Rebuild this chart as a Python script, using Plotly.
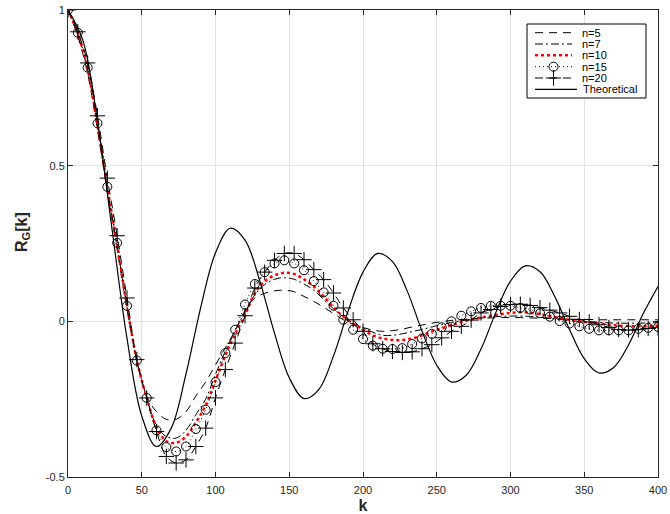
import numpy as np
import plotly.graph_objects as go

# lag grid for simulated curves (61 samples, 0..400)
k_sim = np.linspace(0, 400, 61)

n5 = [1.0, 0.915, 0.795, 0.615, 0.415, 0.23, 0.04, -0.125, -0.24, -0.29, -0.315, -0.315, -0.29,
      -0.24, -0.195, -0.14, -0.085, -0.03, 0.035, 0.075, 0.09, 0.098, 0.1, 0.095, 0.08, 0.064,
      0.045, 0.025, 0.005, -0.01, -0.02, -0.028, -0.032, -0.03, -0.025, -0.018, -0.012, -0.006,
      -0.001, 0.003, 0.006, 0.008, 0.01, 0.011, 0.012, 0.012, 0.012, 0.011, 0.01, 0.009, 0.008,
      0.007, 0.006, 0.006, 0.005, 0.005, 0.005, 0.005, 0.005, 0.005, 0.005]
n7 = [1.0, 0.92, 0.805, 0.625, 0.425, 0.24, 0.045, -0.125, -0.245, -0.335, -0.37, -0.375, -0.35,
      -0.3, -0.25, -0.17, -0.095, -0.03, 0.03, 0.085, 0.118, 0.135, 0.14, 0.135, 0.12, 0.1,
      0.07, 0.04, 0.015, -0.005, -0.022, -0.035, -0.045, -0.045, -0.04, -0.033, -0.026, -0.018,
      -0.01, -0.004, 0.002, 0.007, 0.011, 0.014, 0.016, 0.017, 0.017, 0.016, 0.013, 0.01, 0.006,
      0.003, 0.0, -0.002, -0.004, -0.005, -0.006, -0.006, -0.006, -0.005, -0.004]
n10 = [1.0, 0.925, 0.81, 0.63, 0.43, 0.245, 0.05, -0.125, -0.245, -0.34, -0.385, -0.39, -0.37,
       -0.325, -0.27, -0.19, -0.11, -0.04, 0.02, 0.09, 0.128, 0.148, 0.156, 0.152, 0.135, 0.112,
       0.08, 0.045, 0.015, -0.008, -0.027, -0.045, -0.055, -0.06, -0.06, -0.055, -0.045, -0.033,
       -0.023, -0.012, -0.003, 0.006, 0.012, 0.018, 0.023, 0.027, 0.029, 0.028, 0.023, 0.017,
       0.011, 0.005, 0.0, -0.004, -0.007, -0.01, -0.014, -0.015, -0.016, -0.015, -0.014]
n15 = [1.0, 0.927, 0.815, 0.636, 0.432, 0.252, 0.05, -0.126, -0.246, -0.35, -0.404, -0.418,
       -0.402, -0.346, -0.284, -0.195, -0.102, -0.027, 0.054, 0.12, 0.158, 0.186, 0.196, 0.186,
       0.164, 0.129, 0.093, 0.05, 0.005, -0.027, -0.057, -0.078, -0.088, -0.089, -0.086, -0.073,
       -0.055, -0.04, -0.019, 0.0, 0.018, 0.032, 0.043, 0.05, 0.05, 0.05, 0.043, 0.038, 0.026,
       0.015, 0.001, -0.007, -0.016, -0.024, -0.029, -0.029, -0.029, -0.029, -0.024, -0.021, -0.018]
n20 = [1.0, 0.93, 0.83, 0.66, 0.46, 0.275, 0.075, -0.123, -0.246, -0.354, -0.434, -0.455,
       -0.445, -0.402, -0.343, -0.246, -0.155, -0.07, 0.018, 0.107, 0.158, 0.196, 0.218, 0.218,
       0.198, 0.166, 0.134, 0.091, 0.043, 0.005, -0.032, -0.072, -0.088, -0.097, -0.1, -0.098,
       -0.088, -0.075, -0.053, -0.032, -0.016, 0.004, 0.027, 0.038, 0.048, 0.054, 0.055, 0.051,
       0.044, 0.036, 0.027, 0.016, 0.006, -0.002, -0.011, -0.02, -0.026, -0.028, -0.027, -0.023, -0.02]

# theoretical curve samples (k = 0, 10, ..., 400)
k_th = list(range(0, 401, 10))
theo = [1.0, 0.904, 0.643, 0.291, -0.055, -0.304, -0.402, -0.343, -0.169, 0.045, 0.220, 0.299,
        0.261, 0.130, -0.038, -0.181, -0.248, -0.219, -0.111, 0.034, 0.158, 0.218, 0.192, 0.097,
        -0.031, -0.141, -0.195, -0.173, -0.089, 0.028, 0.129, 0.178, 0.159, 0.080, -0.026,
        -0.120, -0.166, -0.148, -0.076, 0.025, 0.112]

series_names = ["n=5", "n=7", "n=10", "n=15", "n=20", "Theoretical"]
x_ticks = [0, 50, 100, 150, 200, 250, 300, 350, 400]
y_ticks = [-0.5, 0, 0.5, 1]
y_tick_text = ["-0.5", "0", "0.5", "1"]

FONT = "Liberation Sans, Arial, Helvetica, sans-serif"

styles = [
    dict(line=dict(color="black", width=1, dash="8px,6px"), marker=None),
    dict(line=dict(color="black", width=1, dash="8px,3px,2px,3px"), marker=None),
    dict(line=dict(color="red", width=2.5, dash="dot"), marker=None),
    dict(line=dict(color="black", width=1, dash="1px,3px"),
         marker=dict(symbol="circle-open", size=9, color="black", line=dict(width=1, color="black"))),
    dict(line=dict(color="black", width=1, dash="8px,6px"),
         marker=dict(symbol="cross-thin-open", size=11, color="black", line=dict(width=1, color="black"))),
    dict(line=dict(color="black", width=1.2), marker=None),
]
series = [(k_sim, n5), (k_sim, n7), (k_sim, n10), (k_sim, n15), (k_sim, n20), (k_th, theo)]

fig = go.Figure()
for (xs, ys), nm, st in zip(series, series_names, styles):
    kw = dict(x=xs, y=ys, name=nm, line_shape="spline", line=st["line"], showlegend=False)
    if st["marker"] is not None:
        kw.update(mode="lines+markers", marker=st["marker"])
    else:
        kw.update(mode="lines")
    fig.add_trace(go.Scatter(**kw))

# ---- compact MATLAB-style legend on a pixel-mapped overlay axis ----
LX0, LX1, LY0, LY1 = 527, 646, 24, 98
row_y = [32.7, 44.0, 55.3, 66.7, 78.0, 89.3]
fig.add_trace(go.Scatter(x=[LX0, LX1, LX1, LX0, LX0], y=[LY0, LY0, LY1, LY1, LY0],
                         mode="lines", fill="toself", fillcolor="white",
                         line=dict(color="black", width=1), xaxis="x2", yaxis="y2",
                         showlegend=False, hoverinfo="skip"))
for i, (nm, st) in enumerate(zip(series_names, styles)):
    x_end = 577 if nm == "Theoretical" else 572
    fig.add_trace(go.Scatter(x=[535, x_end], y=[row_y[i], row_y[i]], mode="lines",
                             line=st["line"], xaxis="x2", yaxis="y2", showlegend=False,
                             hoverinfo="skip"))
    if st["marker"] is not None:
        fig.add_trace(go.Scatter(x=[553.5], y=[row_y[i]], mode="markers", marker=st["marker"],
                                 xaxis="x2", yaxis="y2", showlegend=False, hoverinfo="skip"))
    fig.add_annotation(x=581 if nm == "Theoretical" else 580, y=row_y[i], xref="x2", yref="y2",
                       text=nm, showarrow=False, xanchor="left", yanchor="middle",
                       font=dict(family=FONT, size=11, color="black"))

# y-axis title
fig.add_annotation(x=-0.078, y=0.5246, xref="paper", yref="paper",
                   text="<b>R<sub>G</sub>[k]</b>", showarrow=False, textangle=-90,
                   xanchor="center", yanchor="middle",
                   font=dict(family=FONT, size=16, color="#262626"))

axis_common = dict(showline=True, linecolor="#262626", linewidth=1, mirror="ticks",
                   ticks="inside", ticklen=5, tickcolor="#262626", showgrid=True,
                   gridcolor="#e3e3e3", gridwidth=1, zeroline=False, automargin=False,
                   tickfont=dict(family=FONT, size=11, color="#262626"))

fig.update_layout(
    width=670, height=514,
    margin=dict(l=68, r=12, t=10, b=37, autoexpand=False),
    paper_bgcolor="white", plot_bgcolor="white",
    showlegend=False,
    xaxis=dict(range=[0, 400], tickvals=x_ticks, ticklabelstandoff=3,
               title=dict(text="<b>k</b>", standoff=4,
                          font=dict(family=FONT, size=16, color="#262626")),
               **axis_common),
    yaxis=dict(range=[-0.5, 1], tickvals=y_ticks, ticktext=y_tick_text, **axis_common),
    xaxis2=dict(range=[68, 658], overlaying="x", visible=False, fixedrange=True),
    yaxis2=dict(range=[477, 10], overlaying="y", visible=False, fixedrange=True),
)

fig.write_html("out.html")
